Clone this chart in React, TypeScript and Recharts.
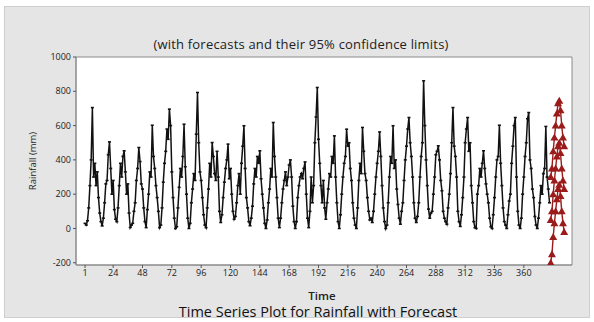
import React from 'react';
import { LineChart, Line, XAxis, YAxis, ReferenceArea, CartesianGrid } from 'recharts';

const rainfall: number[] = [
  30, 20, 45, 120, 250, 400, 705, 300, 380, 250, 330, 180, 90, 40, 15, 60, 150, 260, 280, 430,
  505, 350, 200, 280, 110, 54, 40, 120, 250, 380, 300, 420, 453, 330, 200, 260, 90, 6, 20, 30,
  100, 150, 280, 350, 472, 390, 260, 230, 120, 40, 5, 110, 200, 330, 300, 602, 420, 350, 250, 180,
  100, 5, 20, 120, 270, 380, 450, 580, 520, 696, 600, 330, 180, 60, 0, 10, 120, 240, 350, 300,
  420, 608, 360, 200, 60, 0, 30, 150, 230, 320, 280, 550, 793, 500, 330, 280, 180, 80, 20, 5,
  120, 230, 380, 300, 501, 420, 320, 280, 450, 300, 100, 35, 80, 180, 270, 350, 400, 492, 290, 350,
  200, 100, 54, 70, 150, 250, 320, 200, 380, 480, 599, 350, 180, 120, 40, 16, 60, 130, 260, 350,
  300, 420, 380, 453, 290, 200, 120, 30, 0, 50, 150, 230, 350, 300, 618, 420, 300, 180, 60, 5,
  60, 150, 230, 280, 330, 250, 300, 370, 400, 300, 130, 40, 0, 40, 180, 250, 300, 320, 290, 350,
  388, 200, 60, 5, 100, 300, 150, 250, 500, 650, 822, 520, 380, 250, 150, 280, 120, 54, 150, 230,
  320, 300, 420, 380, 540, 300, 150, 40, 0, 80, 200, 300, 380, 420, 579, 480, 500, 350, 280, 150,
  60, 20, 0, 120, 280, 380, 320, 589, 450, 320, 280, 180, 100, 50, 60, 35, 100, 200, 300, 380,
  450, 563, 420, 250, 120, 40, 0, 20, 150, 300, 420, 380, 599, 350, 400, 230, 140, 60, 25, 100,
  150, 280, 400, 480, 580, 647, 500, 420, 300, 150, 60, 35, 70, 150, 300, 420, 500, 861, 600, 400,
  250, 113, 60, 90, 100, 200, 300, 430, 450, 482, 400, 280, 220, 100, 60, 40, 25, 120, 200, 320,
  500, 705, 480, 420, 300, 100, 40, 12, 80, 180, 300, 500, 580, 647, 450, 500, 250, 150, 40, 5,
  0, 200, 250, 350, 300, 380, 453, 350, 260, 200, 150, 60, 10, 0, 80, 180, 300, 400, 420, 602,
  380, 250, 120, 40, 20, 0, 80, 160, 200, 380, 480, 600, 647, 300, 100, 20, 0, 60, 200, 300,
  420, 500, 640, 676, 400, 350, 230, 180, 70, 20, 0, 60, 150, 250, 200, 320, 350, 595, 300, 230,
  150,
];

const forecast: number[] = [50, 100, 200, 280, 350, 420, 480, 500, 440, 350, 280, 230];
const upper: number[] = [300, 350, 450, 530, 600, 670, 730, 745, 690, 600, 530, 480];
const lower: number[] = [-200, -150, -50, 30, 100, 170, 230, 255, 190, 100, 30, -20];

const xTicks: number[] = [1, 24, 48, 72, 96, 120, 144, 168, 192, 216, 240, 264, 288, 312, 336, 360];
const yTicks: number[] = [-200, 0, 200, 400, 600, 800, 1000];

const X_MIN = -6.4;
const X_MAX = 399.4;
const Y_MIN = -213;
const Y_MAX = 1000;

type Row = { t: number; rain?: number; fc?: number; up?: number; lo?: number };
const data: Row[] = [];
rainfall.forEach((v, i) => data.push({ t: i + 1, rain: v }));
forecast.forEach((v, i) => data.push({ t: rainfall.length + 1 + i, fc: v, up: upper[i], lo: lower[i] }));

const FONT = '"Open Sans", "DejaVu Sans", sans-serif';
const RED = '#9b1b1b';

const Tri = (props: any) => {
  const { cx, cy } = props;
  if (cx == null || cy == null) return null;
  return <path d={`M${cx},${cy - 4} L${cx + 4},${cy + 3} L${cx - 4},${cy + 3} Z`} fill={RED} stroke="none" />;
};

const Dash = (props: any) => {
  const { cx, cy } = props;
  if (cx == null || cy == null) return null;
  return <rect x={cx - 1.5} y={cy - 0.8} width={3} height={1.6} fill="#111" />;
};

export default function App() {
  return (
    <div style={{ position: 'absolute', left: 0, top: 0, width: 594, height: 322, background: '#fff' }}>
      <div style={{ position: 'absolute', left: 4, top: 6, width: 586, height: 312, background: '#e5e5e5', border: '1px solid #cfcfcf', boxSizing: 'border-box' }} />
      <div style={{ position: 'absolute', left: 0, top: 0 }}>
        <LineChart width={594} height={322} data={data} margin={{ top: 57, right: 22, bottom: 27, left: 36 }}>
          <CartesianGrid horizontal={false} vertical={false} fill="#ffffff" fillOpacity={1} />
          <XAxis
            type="number"
            dataKey="t"
            domain={[X_MIN, X_MAX]}
            ticks={xTicks}
            allowDataOverflow
            height={30}
            tickSize={3}
            tickMargin={2}
            interval={0}
            axisLine={{ stroke: '#8a8a8a' }}
            tickLine={{ stroke: '#555' }}
            tick={{ fontSize: 9, fill: '#222', fontFamily: FONT }}
          />
          <YAxis
            type="number"
            domain={[Y_MIN, Y_MAX]}
            ticks={yTicks}
            allowDataOverflow
            width={40}
            tickSize={3}
            tickMargin={2}
            interval={0}
            axisLine={{ stroke: '#8a8a8a' }}
            tickLine={{ stroke: '#555' }}
            tick={{ fontSize: 9, fill: '#222', fontFamily: FONT }}
          />
          <ReferenceArea x1={X_MIN} x2={X_MAX} y1={Y_MIN} y2={Y_MAX} fill="none" stroke="#8a8a8a" strokeWidth={1} />
          <Line dataKey="rain" stroke="#111" strokeWidth={1.5} dot={<Dash />} isAnimationActive={false} connectNulls={false} />
          <Line dataKey="up" stroke={RED} strokeWidth={1.4} dot={<Tri />} isAnimationActive={false} />
          <Line dataKey="lo" stroke={RED} strokeWidth={1.4} dot={<Tri />} isAnimationActive={false} />
          <Line dataKey="fc" stroke={RED} strokeWidth={1.4} dot={<Tri />} isAnimationActive={false} />
        </LineChart>
      </div>
      <div style={{ position: 'absolute', left: 0, width: 602, top: 37, lineHeight: '14px', textAlign: 'center', fontFamily: FONT, fontSize: 13, letterSpacing: 0.2, color: '#222' }}>
        (with forecasts and their 95% confidence limits)
      </div>
      <div style={{ position: 'absolute', left: 33 - 50, top: 161 - 8, width: 100, height: 16, transform: 'rotate(-90deg)', textAlign: 'center', fontFamily: FONT, fontSize: 9.5, color: '#222', lineHeight: '16px' }}>
        Rainfall (mm)
      </div>
      <div style={{ position: 'absolute', left: 272, width: 100, top: 290, lineHeight: '12px', textAlign: 'center', fontFamily: FONT, fontSize: 11.5, fontWeight: 600, color: '#222' }}>
        Time
      </div>
      <div style={{ position: 'absolute', left: 0, width: 636, top: 305, lineHeight: '13px', textAlign: 'center', fontFamily: FONT, fontSize: 14.5, color: '#111' }}>
        Time Series Plot for Rainfall with Forecast
      </div>
    </div>
  );
}
